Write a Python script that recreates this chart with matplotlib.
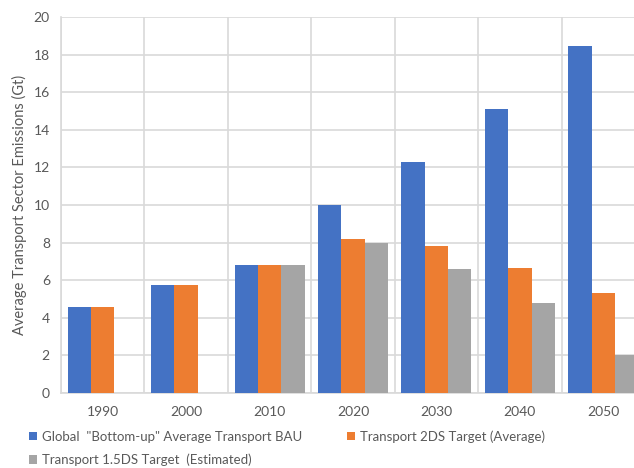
import matplotlib.pyplot as plt
import numpy as np

plt.rcParams['font.family'] = ['Lato', 'DejaVu Sans']

years = ['1990', '2000', '2010', '2020', '2030', '2040', '2050']
bau = [4.6, 5.75, 6.8, 10.0, 12.3, 15.1, 18.45]
target_2ds = [4.6, 5.75, 6.8, 8.2, 7.8, 6.65, 5.3]
target_15ds = [np.nan, np.nan, 6.8, 8.0, 6.6, 4.8, 2.0]

series_names = ['Global  "Bottom-up" Average Transport BAU',
                'Transport 2DS Target (Average)',
                'Transport 1.5DS Target  (Estimated)']
colors = ['#4472c4', '#ed7d31', '#a5a5a5']
text_col = '#595959'
grid_col = '#d9d9d9'

fig = plt.figure(figsize=(6.34, 4.68), dpi=100)
ax = fig.add_axes([61 / 634, 75 / 468, 584 / 634, 376 / 468])

x = np.arange(len(years))
w = 0.28
bars = []
for i, (vals, c) in enumerate(zip([bau, target_2ds, target_15ds], colors)):
    b = ax.bar(x + (i - 1) * w, vals, width=w, color=c, label=series_names[i], zorder=3)
    bars.append(b)

ax.set_xlim(-0.5, len(years) - 0.5)
ax.set_ylim(0, 20)
ax.set_yticks(np.arange(0, 21, 2))
ax.set_xticks(x)
ax.set_xticklabels(years)
ax.set_xticks(np.arange(-0.5, len(years), 1), minor=True)

ax.grid(axis='y', which='major', color=grid_col, lw=1.2, zorder=0)
ax.grid(axis='x', which='minor', color=grid_col, lw=1.2, zorder=0)
ax.tick_params(which='both', length=0, labelsize=10, colors=text_col)
ax.tick_params(axis='x', pad=9)
ax.tick_params(axis='y', pad=8)

for side in ['top', 'right']:
    ax.spines[side].set_visible(False)
for side in ['left', 'bottom']:
    ax.spines[side].set_color(grid_col)
    ax.spines[side].set_linewidth(1.2)

ax.set_ylabel('Average Transport Sector Emissions (Gt)', fontsize=10.5, color=text_col, labelpad=5)

# column-major fill: blue and grey in the first column, orange in the second
leg = fig.legend([bars[0], bars[2], bars[1]],
                 [series_names[0], series_names[2], series_names[1]],
                 ncol=2, loc='upper left', bbox_to_anchor=(29 / 634, 1 - 430 / 468),
                 frameon=False, fontsize=9.5, handlelength=0.6, handleheight=0.6,
                 handletextpad=0.35, columnspacing=3.45, labelspacing=0.85,
                 borderaxespad=0, borderpad=0)
for t in leg.get_texts():
    t.set_color(text_col)

fig.savefig('out.png', dpi=100)
